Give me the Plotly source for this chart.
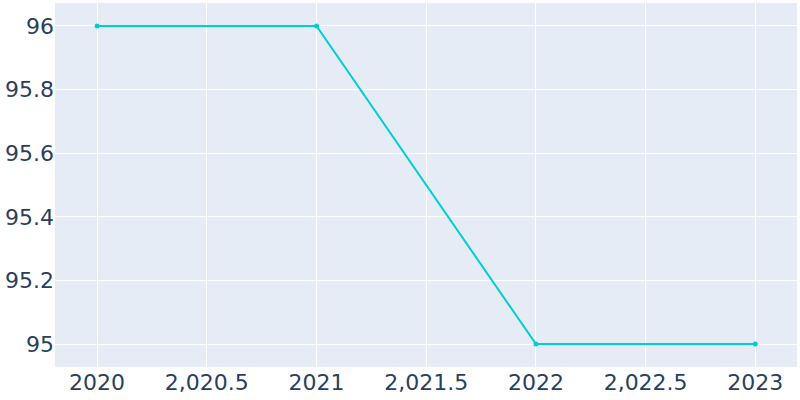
import plotly.graph_objects as go

years = [2020, 2021, 2022, 2023]
values = [96, 96, 95, 95]

fig = go.Figure()
fig.add_trace(go.Scatter(
    x=years, y=values, mode="lines+markers",
    line=dict(color="#00CED1", width=2),
    marker=dict(size=5, color="#00CED1"),
))
fig.update_layout(
    template="plotly",
    width=800, height=400,
    margin=dict(l=55, r=3, t=3, b=33),
    font=dict(family="DejaVu Sans", size=22, color="#2a3f5f"),
    showlegend=False,
)
fig.update_xaxes(range=[2019.808, 2023.19], dtick=0.5, automargin=False)
fig.update_yaxes(range=[94.928, 96.072], dtick=0.2, automargin=False)
fig.write_html(
    "out.html",
    config={"displayModeBar": False},
    post_script="document.body.style.margin='0';document.body.style.overflow='hidden';",
)
